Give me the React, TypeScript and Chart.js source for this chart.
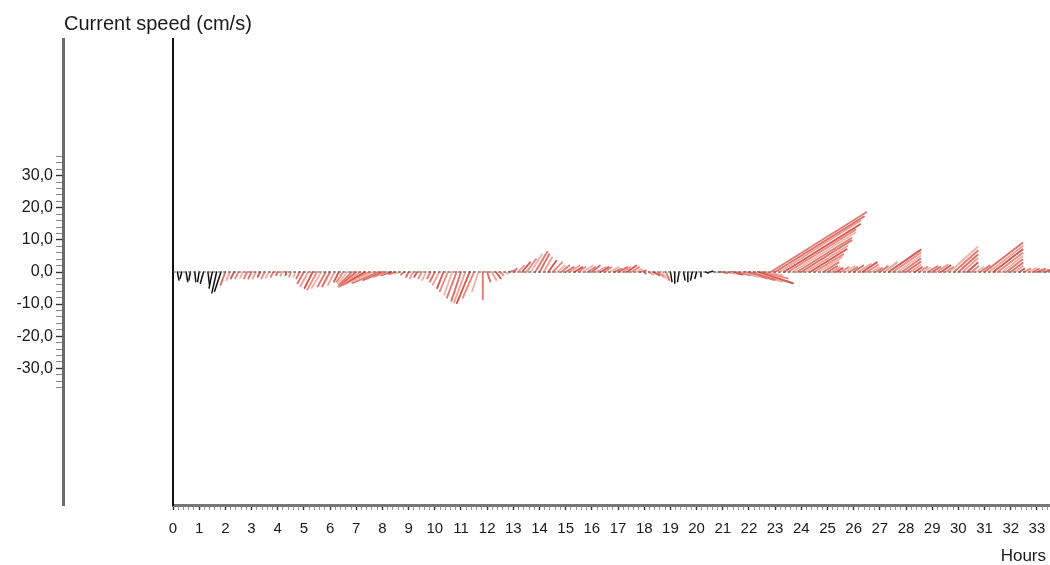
import React, { useEffect, useRef } from 'react';
import { Chart, registerables } from 'chart.js';

Chart.register(...registerables);

// Sampling: one current vector every 10 minutes, starting at hour 0
const SAMPLE_MINUTES = 10;

// East (u) components, cm/s — one row per hour
const U_EAST: number[] = [
  0, 0.5, -0.5, 0.5, -0.5, 0.3,
  -0.5, -1, 0.5, -1, -1.5, -2,
  -1.5, -1, -1, -1, -0.8, -1,
  -1, -1, -0.8, -1, -1, -0.8,
  -0.5, -0.5, -0.3, -0.5, -0.5, -1,
  -2, -2.5, -2.5, -3, -3, -2.5,
  -2.5, -2, -1.5, -2, -3, -4,
  -5, -7, -8, -9, -9.5, -8,
  -6, -4, -3, -2, -1.5, -1,
  -0.8, -1, -1, -1, -1.2, -1,
  -1.5, -2, -2, -2.5, -2.5, -3,
  -3, -3.5, -4, -3.5, -2, 0,
  1, 1.5, 1.5, 1, 1, 2,
  1, 2, 2.5, 3, 3.5, 3.8,
  3, 2.5, 2.5, 3, 2.5, 2.5,
  2.5, 3, 2.5, 2, 3, 2.5,
  2.5, 3, 2.5, 2, 3, 2.5,
  3, 2.5, 3, 2.5, 2, 2,
  0.5, 1.5, 2, 2, 1.5, 1,
  0.5, 0, -0.5, 0.5, 0, -0.5,
  -0.5, 0, 1, 1, 1, 1,
  1.5, 2.5, 3.5, 4.5, 5.5, 7,
  8, 9, 11, 8, 5, 29.8,
  27.7, 25.2, 23.8, 21, 19.6, 17,
  15.6, 13, 11.4, 9, 7.2, 4.8,
  3, 2.5, 2, 2.5, 3, 2.5,
  3, 4, 4.5, 3.5, 2.5, 2,
  2.5, 4, 10, 8.6, 7.3, 5.9,
  4.5, 3.2, 2.2, 2.5, 2, 3,
  2.5, 3.5, 3, 2.5, 8.7, 7.4,
  6, 4.6, 3.3, 2.2, 2.5, 3,
  11.8, 10.5, 9.1, 7.8, 6.4, 5,
  3.7, 2.3, 1.5, 2, 2.5, 2,
  2.5, 2, 2,
];

// North (v) components, cm/s — one row per hour
const V_NORTH: number[] = [
  -1.5, -2.5, -2, -3, -2.5, -3,
  -3, -3.5, -4, -5, -6.5, -6,
  -4, -2.5, -2, -2, -1.8, -2,
  -2, -2, -1.5, -2, -1.8, -1.5,
  -1, -1.2, -1, -1.5, -1.5, -2,
  -3.5, -4.5, -5, -5.5, -5, -4.5,
  -4.5, -4, -3, -3, -3.5, -4,
  -4, -4.5, -4.5, -4, -4, -3.5,
  -2.5, -1.5, -1, -0.7, -0.5, -0.8,
  -1.5, -2, -1.5, -2, -2.5, -2,
  -3, -4, -5, -6, -7, -8,
  -9, -9.5, -9.7, -8, -6, -8.5,
  -3, -2.5, -2, -1, -0.5, 0.5,
  1, 2, 3, 4, 5.5, 6.3,
  5.5, 4.5, 3.5, 3, 2, 2,
  1.5, 2, 1.5, 1.5, 2, 1.5,
  2, 1.5, 1.5, 1.5, 1.5, 1,
  1.5, 1.5, 2, 1.5, 1, 0.5,
  -0.5, -0.8, -1, -1.5, -2, -2.5,
  -3, -3.5, -3, -2.5, -3, -2.5,
  -2, -1.5, -0.3, 0.2, -0.2, 0,
  -0.3, -0.5, -0.8, -1, -1.5, -2,
  -2.5, -3, -3.5, -2, -1, 18.6,
  17.3, 16, 14.9, 13.2, 12.3, 10.6,
  9.8, 8.1, 7.1, 5.5, 4.5, 3,
  1.8, 1.5, 1.2, 1.5, 1.8, 1.5,
  2, 2.5, 3, 2.2, 1.5, 1.2,
  1.8, 3, 6.9, 5.9, 5, 4.1,
  3.1, 2.2, 1.5, 1.6, 1.3, 1.8,
  1.5, 2.3, 2, 1.5, 7.8, 6.6,
  5.4, 4.2, 2.9, 1.8, 1.5, 2,
  9, 8, 7, 5.9, 4.9, 3.9,
  2.8, 1.8, 1, 1, 1.2, 1,
  1, 0.8, 1,
];

// Time spans (hours) recorded by the second instrument (drawn in black)
const BLACK_SPANS: [number, number][] = [
  [0, 1.9],
  [18.95, 20.6],
];

// Axis ranges and labels
const X_MAX = 33.5;
const Y_MAX = 72.6;
const Y_LABEL_VALUES = [-30, -20, -10, 0, 10, 20, 30];
const TITLE = 'Current speed (cm/s)';
const X_TITLE = 'Hours';

// Layout (pixels)
const W = 1050;
const H = 565;
const PLOT_LEFT = 173;
const PLOT_TOP = 39;
const PLOT_BOTTOM = 505;
const FONT = '"Liberation Sans", Arial, sans-serif';

const PINKS = ['#e26d66', '#f0a096', '#d85650', '#ec8a80', '#f4b3aa', '#e07a72'];

export default function App() {
  const ref = useRef<HTMLCanvasElement | null>(null);

  useEffect(() => {
    if (!ref.current) return;
    const pxPerY = (PLOT_BOTTOM - PLOT_TOP) / (2 * Y_MAX);
    const pxPerX = (W - PLOT_LEFT) / X_MAX;
    const hoursPerCms = pxPerY / pxPerX;

    const datasets: any[] = [];
    datasets.push({
      data: [
        { x: 0, y: 0 },
        { x: X_MAX, y: 0 },
      ],
      showLine: true,
      borderColor: '#555',
      borderWidth: 1,
      borderDash: [3, 2],
      pointRadius: 0,
    });

    U_EAST.forEach((u, k) => {
      const t = (k * SAMPLE_MINUTES) / 60;
      const v = V_NORTH[k];
      const black = BLACK_SPANS.some(([a, b]) => t >= a && t <= b);
      datasets.push({
        data: [
          { x: t, y: 0 },
          { x: t + u * hoursPerCms, y: v },
        ],
        showLine: true,
        borderColor: black ? '#111' : PINKS[k % PINKS.length],
        borderWidth: black ? 1.5 : 1.9,
        borderCapStyle: 'round',
        pointRadius: 0,
      });
    });

    const textPlugin = {
      id: 'texts',
      afterDraw(chart: any) {
        const ctx = chart.ctx;
        ctx.save();
        ctx.fillStyle = '#1a1a1a';
        ctx.textBaseline = 'alphabetic';
        ctx.font = `20px ${FONT}`;
        ctx.textAlign = 'left';
        ctx.fillText(TITLE, 64, 30);
        ctx.font = `17px ${FONT}`;
        ctx.textAlign = 'right';
        ctx.fillText(X_TITLE, 1046, 561);
        ctx.restore();
      },
    };

    const chart = new Chart(ref.current, {
      type: 'scatter',
      data: { datasets },
      plugins: [textPlugin],
      options: {
        animation: false,
        responsive: false,
        maintainAspectRatio: false,
        layout: { autoPadding: false, padding: { top: PLOT_TOP, right: 0, bottom: 0, left: 0 } },
        plugins: {
          legend: { display: false },
          tooltip: { enabled: false },
        },
        scales: {
          x: {
            type: 'linear',
            position: 'bottom',
            min: 0,
            max: X_MAX,
            afterBuildTicks: (scale: any) => {
              const ticks: any[] = [];
              for (let i = 0; i <= 167; i++) ticks.push({ value: i / 5 });
              scale.ticks = ticks;
            },
            afterFit: (scale: any) => {
              scale.height = H - PLOT_BOTTOM;
              scale.paddingRight = 0;
              scale.paddingLeft = 0;
            },
            grid: {
              drawOnChartArea: false,
              tickLength: 5,
              tickColor: (c: any) =>
                c.tick && Math.abs(c.tick.value - Math.round(c.tick.value)) < 1e-6 ? '#333' : '#999',
              tickWidth: (c: any) =>
                c.tick && Math.abs(c.tick.value - Math.round(c.tick.value)) < 1e-6 ? 1.4 : 1,
            },
            border: { color: '#777', width: 3 },
            ticks: {
              autoSkip: false,
              maxRotation: 0,
              minRotation: 0,
              padding: 10,
              color: '#1a1a1a',
              font: { family: FONT, size: 15 },
              callback: (val: any) => {
                const v = Number(val);
                return Math.abs(v - Math.round(v)) < 1e-6 ? String(Math.round(v)) : '';
              },
            },
          },
          y: {
            type: 'linear',
            position: 'left',
            weight: 2,
            min: -Y_MAX,
            max: Y_MAX,
            afterBuildTicks: (scale: any) => {
              const ticks: any[] = [];
              for (let v = -36; v <= 36; v += 2) ticks.push({ value: v });
              scale.ticks = ticks;
            },
            afterFit: (scale: any) => {
              scale.width = 63;
            },
            grid: {
              drawOnChartArea: false,
              tickLength: 7,
              tickColor: (c: any) => (c.tick && c.tick.value % 10 === 0 ? '#333' : '#888'),
              tickWidth: (c: any) => (c.tick && c.tick.value % 10 === 0 ? 1.4 : 1),
            },
            border: { color: '#6a6a6a', width: 3 },
            ticks: {
              autoSkip: false,
              padding: 3,
              color: '#1a1a1a',
              font: { family: FONT, size: 16 },
              callback: (val: any) => {
                const v = Number(val);
                return Y_LABEL_VALUES.includes(v) ? v.toFixed(1).replace('.', ',') : '';
              },
            },
          },
          y2: {
            type: 'linear',
            position: 'left',
            weight: 1,
            min: -Y_MAX,
            max: Y_MAX,
            afterFit: (scale: any) => {
              scale.width = PLOT_LEFT - 63;
            },
            grid: { display: false, drawOnChartArea: false, drawTicks: false },
            border: { color: '#111', width: 2 },
            ticks: { display: false },
          },
        },
      } as any,
    });
    return () => chart.destroy();
  }, []);

  return (
    <div style={{ position: 'fixed', left: 0, top: 0, width: W, height: H, background: '#fff' }}>
      <canvas ref={ref} width={W} height={H} style={{ display: 'block', width: W, height: H }} />
    </div>
  );
}
